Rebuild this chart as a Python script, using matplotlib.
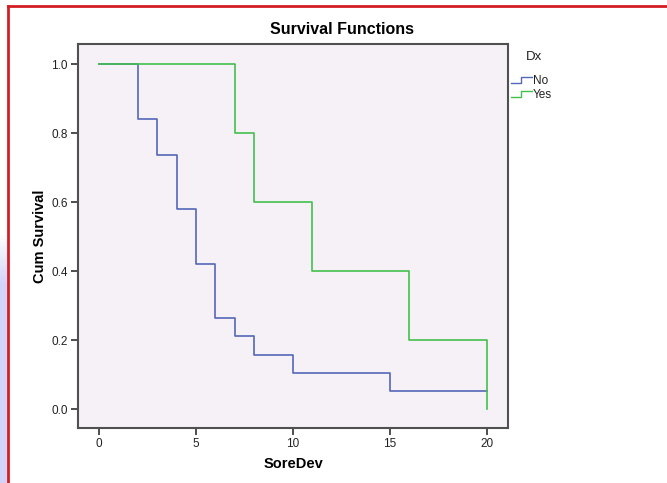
import numpy as np
import matplotlib
matplotlib.use("Agg")
import matplotlib.pyplot as plt
from matplotlib.lines import Line2D
from matplotlib.ticker import FormatStrFormatter

plt.rcParams['font.family'] = ['Liberation Sans', 'DejaVu Sans']

# Data (Kaplan-Meier step functions)
no_times = [0, 2, 3, 4, 5, 6, 7, 8, 10, 15, 20]
no_surv = [1.0, 0.842, 0.737, 0.579, 0.421, 0.263, 0.211, 0.158, 0.105, 0.053, 0.053]
yes_times = [0, 7, 8, 11, 16, 20]
yes_surv = [1.0, 0.8, 0.6, 0.4, 0.2, 0.0]
x_ticks = [0, 5, 10, 15, 20]
y_ticks = [0.0, 0.2, 0.4, 0.6, 0.8, 1.0]

blue = '#5468B8'
green = '#44C04F'
W, H = 667, 483

fig = plt.figure(figsize=(W / 100, H / 100), dpi=100)
fig.patch.set_facecolor('white')

# left lavender gradient strip
gax = fig.add_axes([0, 0, 8 / W, 250 / H])
rgba = np.zeros((100, 1, 4))
rgba[..., 0] = 0.83
rgba[..., 1] = 0.83
rgba[..., 2] = 0.98
rgba[..., 3] = np.clip(np.linspace(0, 5, 100), 0, 1).reshape(-1, 1)
gax.imshow(rgba, aspect='auto', extent=[0, 1, 0, 1], origin='upper')
gax.axis('off')

# red border
fig.add_artist(Line2D([8 / W, 8 / W], [0, 1 - 6 / H], color='#D41E26', lw=2, transform=fig.transFigure))
fig.add_artist(Line2D([8 / W, 1], [1 - 6 / H, 1 - 6 / H], color='#D41E26', lw=2, transform=fig.transFigure))

ax = fig.add_axes([78 / W, 1 - 428 / H, (508 - 78) / W, (428 - 44) / H])
ax.set_facecolor('#F6F1F6')
ax.step(no_times, no_surv, where='post', color=blue, lw=1.2)
ax.step(yes_times, yes_surv, where='post', color=green, lw=1.2)
ax.set_xlim(-1.08, 21.08)
ax.set_ylim(-0.055, 1.058)
ax.set_xticks(x_ticks)
ax.set_yticks(y_ticks)
ax.yaxis.set_major_formatter(FormatStrFormatter('%.1f'))
ax.tick_params(labelsize=8.5, length=5, width=1.3, color='#404040', labelcolor='#222222', pad=2.5)
for s in ax.spines.values():
    s.set_color('#505050')
    s.set_linewidth(1.5)
ax.set_xlabel('SoreDev', fontsize=10.5, fontweight='bold', labelpad=5)
ax.set_ylabel('Cum Survival', fontsize=10.5, fontweight='bold', labelpad=3)

fig.text(342 / W, 1 - 30 / H, 'Survival Functions', ha='center', va='center',
         fontsize=11.5, fontweight='bold')

# legend
fig.text(526 / W, 1 - 57 / H, 'Dx', ha='left', va='center', fontsize=9.5, color='#222222')
for yy, col, lab in [(80, blue, 'No'), (94, green, 'Yes')]:
    xs = np.array([511, 521, 521, 532]) / W
    ys = 1 - np.array([yy + 3, yy + 3, yy - 3, yy - 3]) / H
    fig.add_artist(Line2D(xs, ys, color=col, lw=1, transform=fig.transFigure))
    fig.text(533 / W, 1 - (yy + 1) / H, lab, ha='left', va='center', fontsize=8.5, color='#222222')

fig.savefig('out.png', dpi=100)
